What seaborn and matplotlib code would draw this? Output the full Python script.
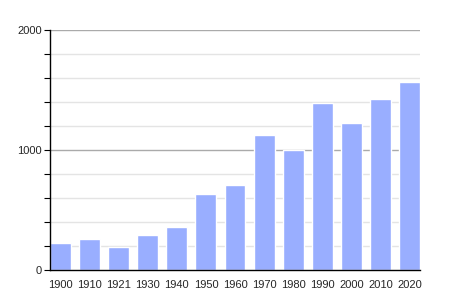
import matplotlib
matplotlib.use("Agg")
import matplotlib.pyplot as plt
import seaborn as sns
import pandas as pd

years = ["1900", "1910", "1921", "1930", "1940", "1950", "1960", "1970", "1980", "1990", "2000", "2010", "2020"]
population = [225, 258, 194, 292, 358, 636, 708, 1125, 1000, 1392, 1225, 1425, 1567]

sns.set_theme(style="white")
plt.rcParams['font.family'] = ['Liberation Sans', 'DejaVu Sans']

df = pd.DataFrame({"year": years, "pop": population})

fig = plt.figure(figsize=(4.5, 3.0), dpi=100)
ax = fig.add_axes([50/450, 0.1, 370/450, 0.8])

# gridlines
for v in range(200, 2001, 200):
    if v % 1000 == 0:
        ax.axhline(v, color="#aaaaaa", lw=1.0, zorder=0)
    else:
        ax.axhline(v, color="#e4e4e4", lw=1.0, zorder=0)

sns.barplot(data=df, x="year", y="pop", color="#99aeff", saturation=1, width=0.72, ax=ax, zorder=2)

ax.set_xlim(-0.36, 12.36)
ax.set_ylim(0, 2000)
ax.set_yticks(range(0, 2001, 200))
ax.set_yticklabels([("" if v % 1000 else str(v)) for v in range(0, 2001, 200)])
ax.set_xlabel("")
ax.set_ylabel("")
for s in ["top", "right"]:
    ax.spines[s].set_visible(False)
ax.spines["left"].set_color("black")
ax.spines["bottom"].set_color("black")
ax.spines["left"].set_linewidth(1.0)
ax.spines["bottom"].set_linewidth(1.0)
ax.tick_params(axis="y", which="major", left=True, length=4, width=0.8, color="black", labelsize=8, pad=2)
ax.tick_params(axis="x", bottom=False, labelsize=8, pad=1)

fig.savefig("out.png", dpi=100)
